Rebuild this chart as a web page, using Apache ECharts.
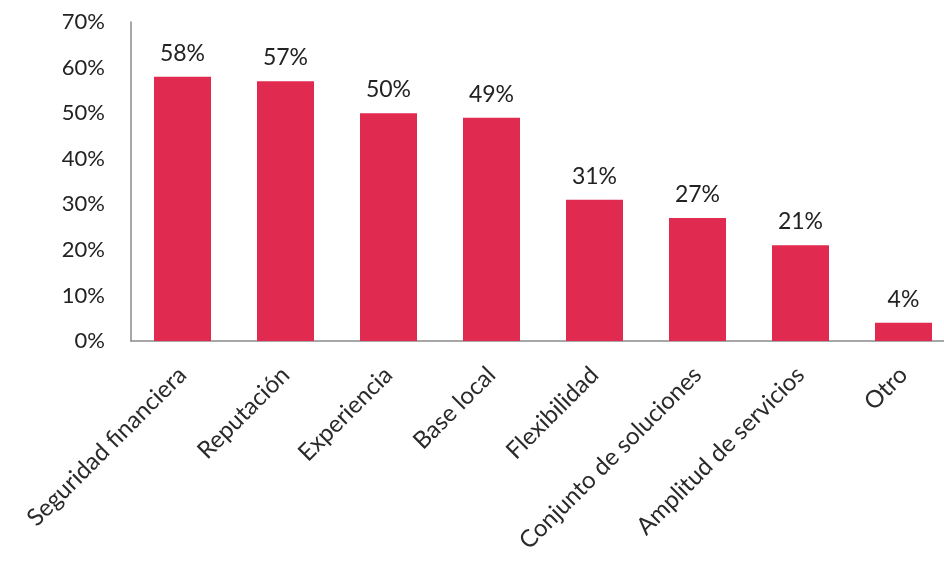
<!DOCTYPE html>
<html>
<head>
<meta charset="utf-8">
<script src="https://cdn.jsdelivr.net/npm/echarts@6/dist/echarts.min.js"></script>
<style>
 html, body { margin: 0; padding: 0; background: #fff; overflow: hidden; }
 #chartMain { width: 960px; height: 563px; }
</style>
</head>
<body>
<div id="chartMain"></div>
<script>
 var categories = ['Seguridad financiera', 'Reputación', 'Experiencia', 'Base local', 'Flexibilidad', 'Conjunto de soluciones', 'Amplitud de servicios', 'Otro'];
 var values = [58, 57, 50, 49, 31, 27, 21, 4];
 var yTicks = [0, 10, 20, 30, 40, 50, 60, 70];

 var myChart = echarts.init(document.getElementById('chartMain'));
 var fontName = 'Lato, sans-serif';

 var option = {
	animation: false,
	grid: { left: 131, right: 5, top: 22, bottom: 222 },
	xAxis: {
		type: 'category',
		data: categories,
		axisLine: { lineStyle: { color: '#8a8a8a', width: 1.5 } },
		axisTick: { show: false },
		axisLabel: {
			rotate: 45,
			margin: 30,
			interval: 0,
			fontFamily: fontName,
			fontSize: 24,
			color: '#2a2a2a'
		}
	},
	yAxis: {
		type: 'value',
		min: yTicks[0],
		max: yTicks[yTicks.length - 1],
		interval: 10,
		splitLine: { show: false },
		axisLine: { show: true, lineStyle: { color: '#8a8a8a', width: 1.5 } },
		axisTick: { show: false },
		axisLabel: {
			margin: 26,
			fontFamily: fontName,
			fontSize: 22,
			color: '#222',
			formatter: '{value}%'
		}
	},
	series: [{
		type: 'bar',
		data: values,
		barWidth: 57,
		itemStyle: { color: '#E02A4F' },
		label: {
			show: true,
			position: 'top',
			distance: 12,
			fontFamily: fontName,
			fontSize: 23,
			color: '#222',
			formatter: '{c}%'
		}
	}]
 };

 myChart.setOption(option);
</script>
</body>
</html>
